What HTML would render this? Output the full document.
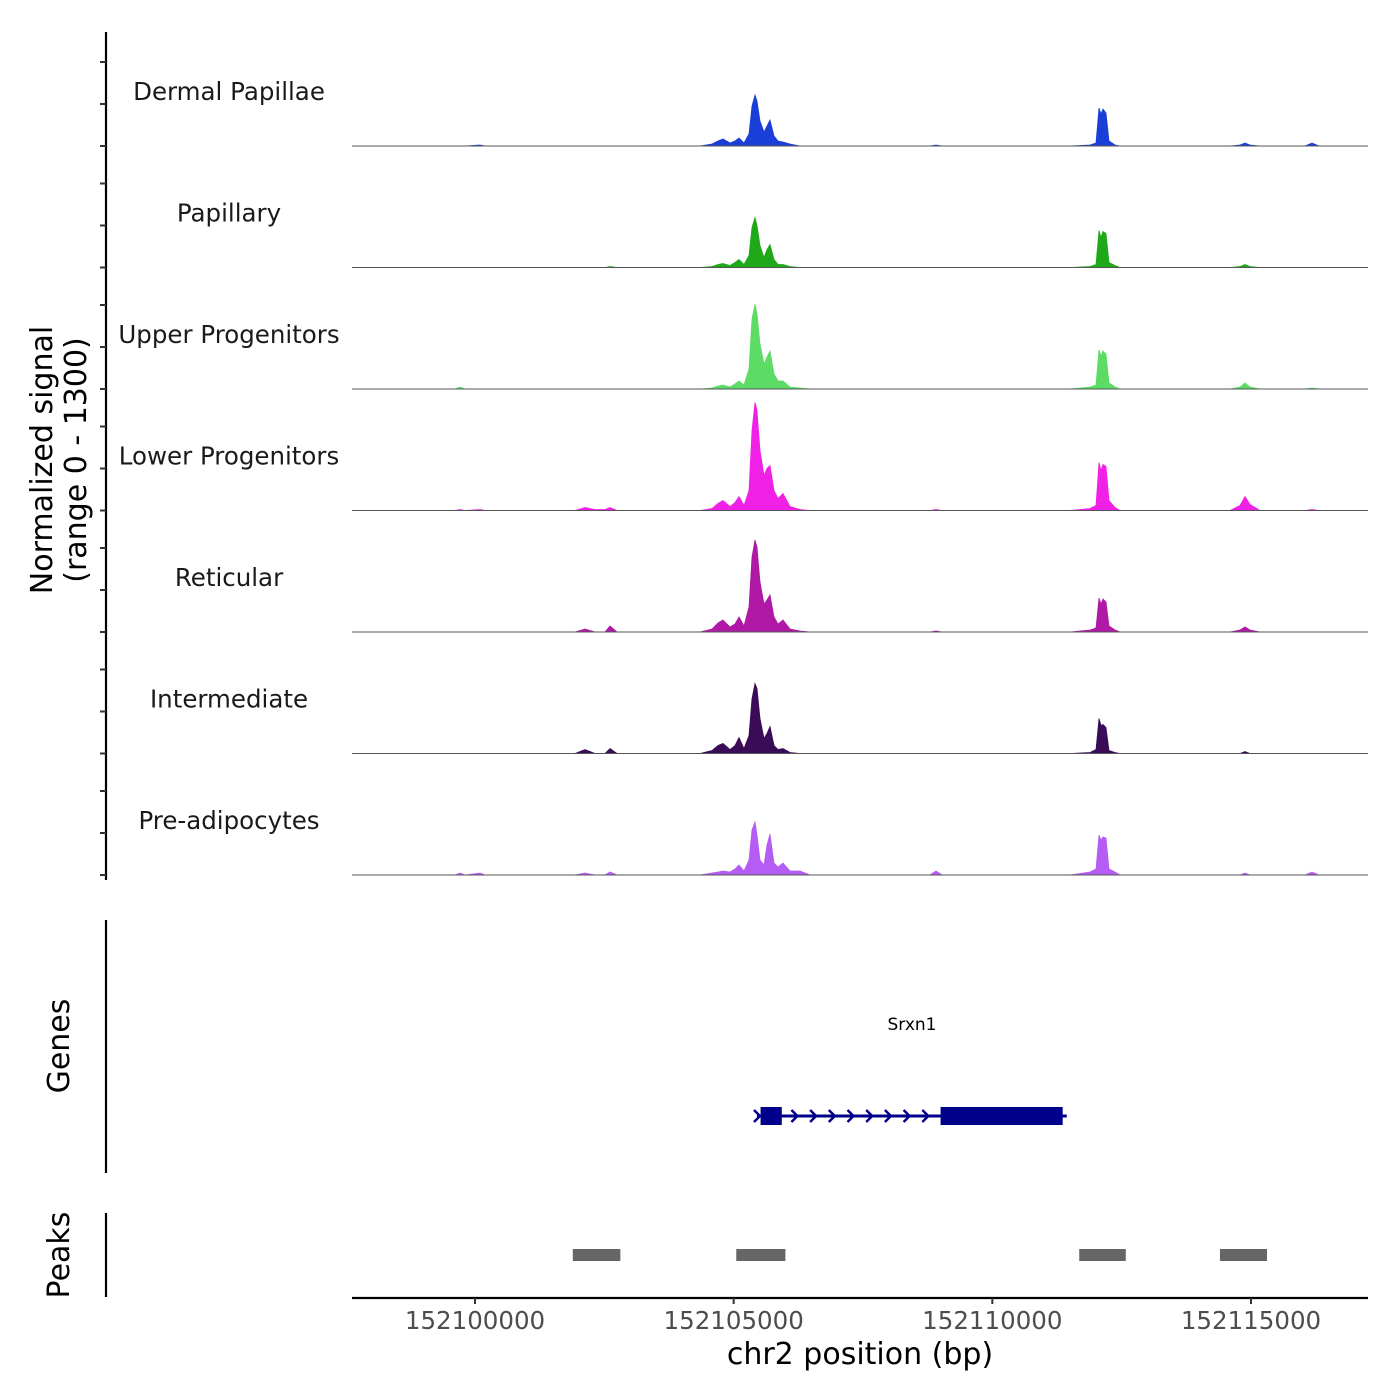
<!DOCTYPE html>
<html><head><meta charset="utf-8"><style>
html,body{margin:0;padding:0;background:#fff;}
svg{display:block;font-family:"DejaVu Sans","Liberation Sans",sans-serif;}
</style></head><body>
<svg id="chart" width="1400" height="1400" viewBox="0 0 1400 1400"></svg>
<script>
const trackNames = ["Dermal Papillae","Papillary","Upper Progenitors","Lower Progenitors","Reticular","Intermediate","Pre-adipocytes"];
const trackColors = ["#1a3fd8","#1ea81a","#5cdc64","#f020e6","#b018a6","#3a0c58","#b45cf4"];
const positions = [152097622,152099613,152099710,152099807,152100097,152100193,152101933,152102126,152102320,152102513,152102610,152102745,152104349,152104581,152104697,152104794,152104929,152105026,152105103,152105200,152105296,152105354,152105413,152105451,152105509,152105587,152105645,152105703,152105780,152105857,152105954,152106089,152106283,152106476,152108795,152108911,152109027,152111501,152111888,152112004,152112062,152112101,152112139,152112197,152112255,152112371,152112468,152114594,152114787,152114884,152114981,152115174,152116044,152116179,152116314,152117262];
const sigDermal = [0,0,0,0,11,0,0,0,0,0,0,0,0,21,54,75,32,54,86,32,128,428,546,482,268,150,214,278,107,54,43,21,0,0,0,11,0,0,11,32,407,342,396,353,54,11,0,0,11,32,11,0,0,32,0,0];
const sigPapillary = [0,0,0,0,0,0,0,0,0,0,11,0,0,11,32,43,21,54,86,32,128,428,535,449,235,107,193,246,86,32,32,11,0,0,0,0,0,0,11,32,396,321,385,364,54,21,0,0,11,32,11,0,0,0,0,0];
const sigUpper = [0,0,21,0,0,0,0,0,0,0,0,0,0,11,32,43,21,54,86,43,214,749,910,803,482,268,342,407,161,86,86,21,11,0,0,0,0,0,21,43,417,353,407,375,64,21,0,0,21,64,21,0,0,11,0,0];
const sigLower = [0,0,11,0,11,0,0,32,11,11,32,0,0,21,75,107,43,86,150,54,214,856,1156,1070,642,375,449,482,214,128,182,43,11,0,0,11,0,0,21,54,514,428,492,471,107,32,0,0,54,150,64,0,0,11,0,0];
const sigReticular = [0,0,0,0,0,0,0,32,0,0,64,0,0,32,96,128,54,86,161,64,268,803,984,910,535,300,342,396,161,86,128,32,11,0,0,11,0,0,21,43,364,300,353,321,64,21,0,0,21,54,21,0,0,0,0,0];
const sigIntermediate = [0,0,0,0,0,0,0,43,0,0,54,0,0,32,86,107,43,86,171,54,193,589,749,696,375,161,214,289,86,43,54,11,0,0,0,0,0,0,11,43,375,300,310,278,32,11,0,0,0,21,0,0,0,0,0,0];
const sigPreadipo = [0,0,21,0,21,0,0,21,0,0,32,0,0,21,32,43,32,64,107,43,161,482,567,428,161,107,321,439,128,86,128,43,43,0,0,43,0,0,32,64,428,375,407,396,64,32,0,0,0,21,0,0,0,32,0,0];
const xTicks = [152100000,152105000,152110000,152115000];
const peakStarts = [152101890,152105050,152111680,152114400];
const peakEnds = [152102810,152106000,152112580,152115310];
const exonStarts = [152105520,152109000];
const exonEnds = [152105930,152111360];
const geneStart = 152105450, geneEnd = 152111400;
const yMax = 1300;

const svg = document.getElementById('chart');
const NS = 'http://www.w3.org/2000/svg';
const X0 = 352, X1 = 1368, BP0 = 152097622, BP1 = 152117262;
function xs(bp){ return X0 + (bp - BP0) / (BP1 - BP0) * (X1 - X0); }
const trackH = 121.5, firstBase = 146;
function ys(v, base){ return base - v / yMax * trackH; }
function mk(tag, attrs, parent){ const e = document.createElementNS(NS, tag); for (const k in attrs) e.setAttribute(k, attrs[k]); (parent||svg).appendChild(e); return e; }

const series = [sigDermal, sigPapillary, sigUpper, sigLower, sigReticular, sigIntermediate, sigPreadipo];
let ax = mk('line',{x1:106,y1:32,x2:106,y2:880,stroke:'#000','stroke-width':2.2});


for (let i=0;i<7;i++){
  const base = firstBase + i*trackH;
  const g = mk('g',{});
  
  
  [base-84, base-42, base].forEach(t=>{ mk('line',{x1:100,y1:t,x2:106,y2:t,stroke:'#333','stroke-width':2},g); });
  let d = 'M'+xs(positions[0])+','+base;
  for (let j=0;j<positions.length;j++) d += ' L'+xs(positions[j]).toFixed(1)+','+ys(series[i][j],base).toFixed(1);
  d += ' L'+xs(positions[positions.length-1])+','+base+' Z';
  const p = mk('path',{d:d,fill:trackColors[i],stroke:trackColors[i],'stroke-width':0.8},g);
  
  
  mk('line',{x1:X0,y1:base,x2:X1,y2:base,stroke:'#555','stroke-width':1},g);
  const t = mk('text',{x:229,y:base-46,'text-anchor':'middle','font-size':24.5,fill:'#1a1a1a'},g);
  t.textContent = trackNames[i];
  
  
}
let yt = mk('text',{transform:'translate(52,460) rotate(-90)','text-anchor':'middle','font-size':30,fill:'#000'});
yt.textContent='Normalized signal';


let yt2 = mk('text',{transform:'translate(86,460) rotate(-90)','text-anchor':'middle','font-size':30,fill:'#000'});
yt2.textContent='(range 0 - 1300)';



let ga = mk('line',{x1:106,y1:920,x2:106,y2:1173,stroke:'#000','stroke-width':2.2});


let gt = mk('text',{transform:'translate(69,1046) rotate(-90)','text-anchor':'middle','font-size':30});
gt.textContent='Genes';


const gg = mk('g',{});


mk('line',{x1:xs(geneStart),y1:1116,x2:xs(geneEnd)+2,y2:1116,stroke:'#00008b','stroke-width':3},gg);
for (let k=0;k<exonStarts.length;k++){
  mk('rect',{x:xs(exonStarts[k]),y:1107,width:xs(exonEnds[k])-xs(exonStarts[k]),height:18,fill:'#00008b'},gg);
}
for (let cx=757; cx<940; cx+=18.7){
  if (cx>760 && cx<786) continue;
  mk('path',{d:'M'+(cx-3)+',1110 L'+(cx+3)+',1116 L'+(cx-3)+',1122',fill:'none',stroke:'#00008b','stroke-width':2.5},gg);
}
let gl = mk('text',{x:912,y:1030,'text-anchor':'middle','font-size':17,fill:'#000'},gg);
gl.textContent='Srxn1';

let pa = mk('line',{x1:106,y1:1213,x2:106,y2:1297,stroke:'#000','stroke-width':2.2});


let pt = mk('text',{transform:'translate(69,1255) rotate(-90)','text-anchor':'middle','font-size':30});
pt.textContent='Peaks';


for (let k=0;k<peakStarts.length;k++){
  const r = mk('rect',{x:xs(peakStarts[k]),y:1249,width:xs(peakEnds[k])-xs(peakStarts[k]),height:12,fill:'#666'});
  
  
}

let xa = mk('line',{x1:X0,y1:1298,x2:X1,y2:1298,stroke:'#000','stroke-width':2.2});


for (const tv of xTicks){
  mk('line',{x1:xs(tv),y1:1298,x2:xs(tv),y2:1304,stroke:'#333','stroke-width':2});
  const tl = mk('text',{x:xs(tv),y:1329,'text-anchor':'middle','font-size':24.5,fill:'#4d4d4d'});
  tl.textContent = String(tv);
  
  
}
let xt = mk('text',{x:860,y:1364,'text-anchor':'middle','font-size':30});
xt.textContent='chr2 position (bp)';


</script>
</body></html>
